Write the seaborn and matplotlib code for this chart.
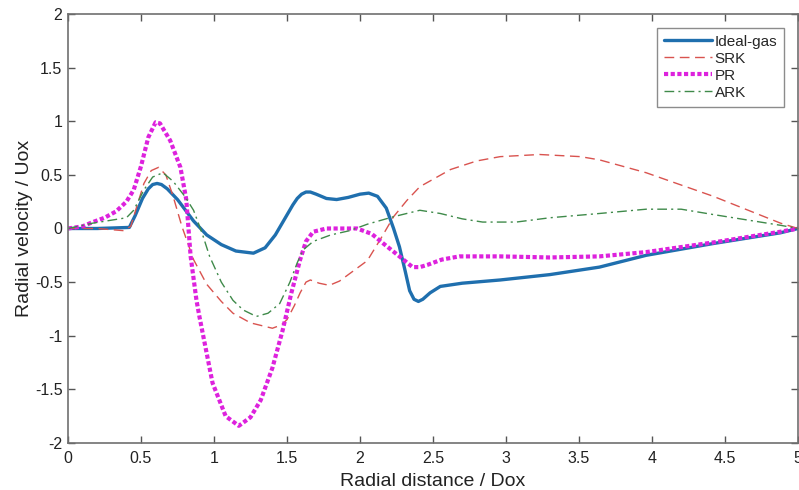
import numpy as np
import pandas as pd
import matplotlib
matplotlib.use('Agg')
import matplotlib.pyplot as plt
import seaborn as sns

# valores (distancia radial / Dox, velocidade radial / Uox)
x_ideal = [0, 0.2, 0.42, 0.46, 0.51, 0.55, 0.58, 0.61, 0.64, 0.68, 0.75, 0.86, 0.95, 1.05, 1.15,
           1.27, 1.35, 1.42, 1.48, 1.54, 1.57, 1.60, 1.63, 1.66, 1.70, 1.77, 1.84, 1.92, 2.00,
           2.06, 2.12, 2.18, 2.23, 2.27, 2.31, 2.34, 2.37, 2.40, 2.43, 2.48, 2.55, 2.70, 2.96,
           3.30, 3.64, 3.96, 4.42, 4.88, 5.0]
y_ideal = [0, 0, 0.01, 0.12, 0.28, 0.37, 0.41, 0.42, 0.41, 0.37, 0.27, 0.07, -0.06, -0.15, -0.21,
           -0.23, -0.18, -0.06, 0.08, 0.22, 0.28, 0.32, 0.34, 0.34, 0.32, 0.28, 0.27, 0.29, 0.32,
           0.33, 0.30, 0.19, 0.0, -0.17, -0.40, -0.58, -0.66, -0.68, -0.66, -0.60, -0.54, -0.51, -0.48,
           -0.43, -0.36, -0.25, -0.14, -0.04, 0]

x_srk = [0, 0.2, 0.38, 0.43, 0.47, 0.52, 0.57, 0.62, 0.67, 0.72, 0.78, 0.86, 0.95, 1.05, 1.13,
         1.25, 1.40, 1.46, 1.50, 1.55, 1.59, 1.63, 1.66, 1.72, 1.79, 1.86, 1.94, 2.05, 2.14,
         2.23, 2.32, 2.41, 2.62, 2.80, 2.96, 3.23, 3.51, 3.64, 3.96, 4.42, 4.88, 5.0]
y_srk = [0, 0, -0.02, 0.02, 0.2, 0.42, 0.54, 0.57, 0.50, 0.30, 0.02, -0.29, -0.52, -0.68, -0.79,
         -0.88, -0.93, -0.90, -0.85, -0.72, -0.60, -0.50, -0.48, -0.51, -0.53, -0.49, -0.41, -0.30, -0.10,
         0.11, 0.26, 0.39, 0.55, 0.63, 0.67, 0.69, 0.67, 0.64, 0.52, 0.30, 0.05, 0]

x_pr = [0, 0.1, 0.17, 0.25, 0.33, 0.40, 0.45, 0.50, 0.55, 0.60, 0.63, 0.70, 0.77, 0.81, 0.84,
        0.88, 0.90, 0.99, 1.08, 1.17, 1.25, 1.32, 1.40, 1.47, 1.53, 1.59, 1.63, 1.68, 1.77,
        1.98, 2.08, 2.16, 2.27, 2.36, 2.41, 2.46, 2.56, 2.68, 2.96, 3.30, 3.64, 3.96, 4.42, 4.88, 5.0]
y_pr = [0, 0.02, 0.06, 0.10, 0.16, 0.25, 0.36, 0.58, 0.85, 0.99, 0.98, 0.82, 0.57, 0.27, -0.26,
        -0.67, -0.82, -1.44, -1.75, -1.84, -1.76, -1.60, -1.30, -0.95, -0.60, -0.29, -0.12, -0.03, 0,
        0, -0.05, -0.14, -0.26, -0.36, -0.36, -0.34, -0.29, -0.26, -0.26, -0.27, -0.26, -0.22, -0.13, -0.03, 0]

x_ark = [0, 0.17, 0.40, 0.45, 0.52, 0.58, 0.65, 0.72, 0.80, 0.86, 0.92, 0.97, 1.05, 1.13, 1.20,
         1.29, 1.37, 1.45, 1.52, 1.57, 1.61, 1.68, 1.80, 1.93, 2.05, 2.23, 2.41, 2.55, 2.70,
         2.84, 3.07, 3.30, 3.64, 3.96, 4.20, 4.42, 4.88, 5.0]
y_ark = [0, 0.05, 0.10, 0.17, 0.36, 0.48, 0.52, 0.44, 0.30, 0.17, -0.05, -0.26, -0.50, -0.67, -0.76,
         -0.82, -0.79, -0.70, -0.50, -0.32, -0.20, -0.12, -0.06, -0.02, 0.04, 0.11, 0.17, 0.14, 0.09,
         0.06, 0.06, 0.10, 0.14, 0.18, 0.18, 0.13, 0.03, 0]

nomes = ['Ideal-gas', 'SRK', 'PR', 'ARK']
cores = ['#1f6fae', '#d9534f', '#dd22dd', '#3f8a4a']

sns.set_style('white')
plt.rcParams['font.family'] = ['Liberation Sans', 'DejaVu Sans']

fig = plt.figure(figsize=(7.99, 4.90), dpi=100)
ax = fig.add_axes([68 / 799, 47 / 490, 730 / 799, 429 / 490])

series = [(x_ideal, y_ideal, '-', 2.4),
          (x_srk, y_srk, (0, (7, 4)), 1.0),
          (x_pr, y_pr, (0, (1, 0.6)), 3.0),
          (x_ark, y_ark, (0, (7, 3, 1.5, 3)), 1.0)]

for (xs, ys, ls, lw), nome, cor in zip(series, nomes, cores):
    sns.lineplot(x=xs, y=ys, ax=ax, color=cor, linestyle=ls, linewidth=lw,
                 label=nome, sort=False, estimator=None)

ax.set_xlim(0, 5)
ax.set_ylim(-2, 2)
ax.set_xticks(np.arange(0, 5.01, 0.5))
ax.set_xticklabels(['0', '0.5', '1', '1.5', '2', '2.5', '3', '3.5', '4', '4.5', '5'])
ax.set_yticks(np.arange(-2, 2.01, 0.5))
ax.set_yticklabels(['-2', '-1.5', '-1', '-0.5', '0', '0.5', '1', '1.5', '2'])
ax.tick_params(direction='in', length=5, width=1, colors='#555555', labelcolor='#222222',
               labelsize=11.5, top=True, right=True, bottom=True, left=True, pad=4)
ax.tick_params(axis='x', pad=6)
for s in ax.spines.values():
    s.set_color('#707070')
    s.set_linewidth(1.2)

ax.set_xlabel('Radial distance / Dox', fontsize=14, color='#222222', labelpad=5)
ax.set_ylabel('Radial velocity / Uox', fontsize=14, color='#222222', labelpad=1)

leg = ax.legend(loc='upper right', fontsize=11, frameon=True, fancybox=False,
                borderaxespad=0.9, handlelength=3.2, handletextpad=0.15,
                labelspacing=0.2, borderpad=0.45)
leg.get_frame().set_edgecolor('#707070')
leg.get_frame().set_linewidth(1.0)

plt.savefig('out.png', dpi=100)
